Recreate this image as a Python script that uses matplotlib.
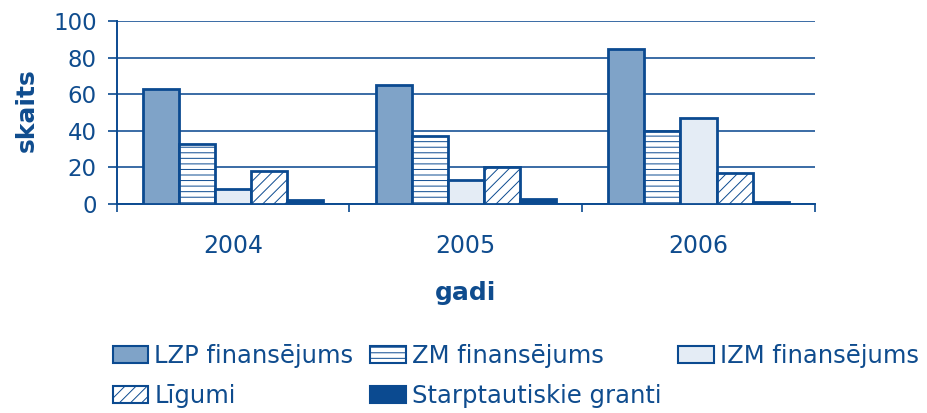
import matplotlib
matplotlib.use("Agg")
import matplotlib.pyplot as plt
import numpy as np
from matplotlib.patches import Patch

years = ["2004", "2005", "2006"]
series_names = ["LZP finansējums", "ZM finansējums", "IZM finansējums", "Līgumi", "Starptautiskie granti"]
lzp = [63, 65, 85]
zm = [33, 37, 40]
izm = [8, 13, 47]
ligumi = [18, 20, 17]
granti = [2, 3, 1]
yticks = [0, 20, 40, 60, 80, 100]

dark = "#0B4A90"
textc = "#0F4C8E"
grid = "#3A6BA5"
fills = ["#7FA3C8", "white", "#E4ECF5", "white", dark]
hatches = [None, "---", None, "///", None]

plt.rcParams["hatch.color"] = dark
plt.rcParams["hatch.linewidth"] = 0.7
plt.rcParams["font.family"] = ["DejaVu Sans"]

fig = plt.figure(figsize=(9.27, 4.13), dpi=100)
ax = fig.add_axes([0.126, 0.506, 0.753, 0.443])

data = [lzp, zm, izm, ligumi, granti]
x = np.arange(len(years))
w = 0.155
for i, vals in enumerate(data):
    ax.bar(x + (i - 2) * w, vals, width=w, color=fills[i], edgecolor=dark,
           linewidth=2, hatch=hatches[i], zorder=3)

ax.set_xlim(-0.5, 2.5)
ax.set_ylim(0, 100)
ax.set_yticks(yticks)
ax.set_yticklabels([str(v) for v in yticks], fontsize=16.5, color=textc)
ax.yaxis.grid(True, color=grid, linewidth=1.4, zorder=0)
ax.set_axisbelow(True)
ax.set_xticks([-0.5, 0.5, 1.5, 2.5], minor=False)
ax.set_xticklabels([])
ax.set_xticks(x, minor=True)
ax.set_xticklabels(years, minor=True, fontsize=17, color=textc)
ax.tick_params(axis="x", which="minor", length=0, pad=21.5)
ax.tick_params(axis="x", which="major", length=6, width=1.2, color=dark, direction="out")
ax.tick_params(axis="y", length=6.5, width=1.2, color=dark, direction="out", pad=8)
for s in ["top", "right"]:
    ax.spines[s].set_visible(False)
for s in ["left", "bottom"]:
    ax.spines[s].set_color(dark)
    ax.spines[s].set_linewidth(1.4)

fig.text(27 / 927, 1 - 110 / 413, "skaits", rotation=90, ha="center", va="center",
         fontsize=18, fontweight="bold", color=textc)
fig.text(466 / 927, 1 - 293 / 413, "gadi", ha="center", va="center",
         fontsize=18, fontweight="bold", color=textc)

handles = [Patch(facecolor=fills[i], edgecolor=dark, linewidth=1.5, hatch=hatches[i], label=series_names[i]) for i in range(5)]
order = [0, 3, 1, 4, 2]
leg = fig.legend([handles[i] for i in order], [series_names[i] for i in order],
                 ncol=3, loc="upper left", bbox_to_anchor=(113 / 927, 1 - 344 / 413),
                 frameon=False, fontsize=17.5, handlelength=1.45, handleheight=0.75,
                 handletextpad=0.25, columnspacing=0.7, labelspacing=0.66,
                 borderaxespad=0, borderpad=0)
for t in leg.get_texts():
    t.set_color(textc)

fig.savefig("out.png", dpi=100)
